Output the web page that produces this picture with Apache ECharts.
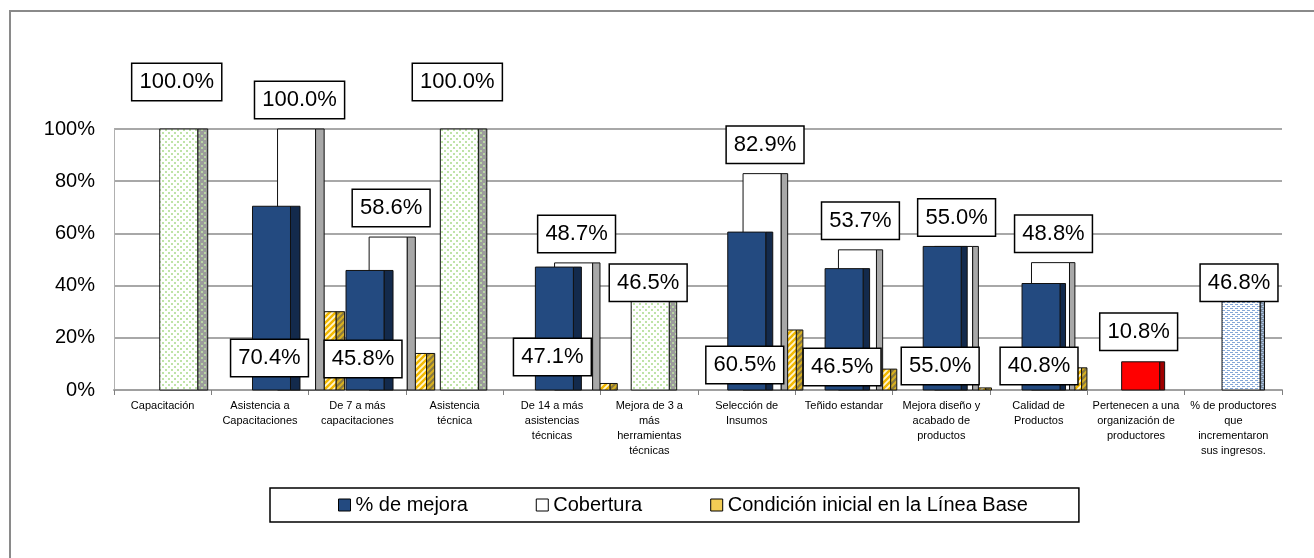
<!DOCTYPE html>
<html>
<head>
<meta charset="utf-8">
<style>
  html, body { margin: 0; padding: 0; background: #fff; }
  #chart { width: 1314px; height: 558px; }
</style>
<script src="https://cdn.jsdelivr.net/npm/echarts@6/dist/echarts.min.js"></script>
</head>
<body>
<div id="chart"></div>
<script>
const categories = [
  'Capacitación',
  'Asistencia a\nCapacitaciones',
  'De 7 a más\ncapacitaciones',
  'Asistencia\ntécnica',
  'De 14 a más\nasistencias\ntécnicas',
  'Mejora de 3 a\nmás\nherramientas\ntécnicas',
  'Selección de\nInsumos',
  'Teñido estandar',
  'Mejora diseño y\nacabado de\nproductos',
  'Calidad de\nProductos',
  'Pertenecen a una\norganización de\nproductores',
  '% de productores\nque\nincrementaron\nsus ingresos.'
]
const seriesNames = ['% de mejora', 'Cobertura', 'Condición inicial en la Línea Base']
const mejora    = [100, 70.4, 45.8, 100, 47.1, 46.5, 60.5, 46.5, 55.0, 40.8, 10.8, 46.8]
const cobertura = [null, 100, 58.6, null, 48.7, null, 82.9, 53.7, 55.0, 48.8, null, null]
const lineaBase = [null, 30, 14, null, 2.5, null, 23, 8, 0.8, 8.5, null, null]

// style only: fill of each "% de mejora" bar and where its label box sits
const mejoraFill  = ['green', 'blue', 'blue', 'green', 'blue', 'green', 'blue', 'blue', 'blue', 'blue', 'red', 'dots']
const mejoraLabel = [['top', -47], ['base', -32], ['base', -31], ['top', -47], ['base', -33], ['top', 14],
  ['base', -25], ['base', -23], ['base', -24], ['base', -24], ['top', -30], ['top', 15]]

const FONT = '"Liberation Sans", Arial, sans-serif'

function pattern(w, h, bg, draw) {
  const c = document.createElement('canvas')
  c.width = w
  c.height = h
  const g = c.getContext('2d')
  g.fillStyle = bg
  g.fillRect(0, 0, w, h)
  draw(g)
  return { image: c, repeat: 'repeat' }
}
const dots = col => g => { g.fillStyle = col; g.fillRect(0, 0, 2, 2); g.fillRect(3, 3, 2, 2) }
const dashes = col => g => { g.fillStyle = col; g.fillRect(0, 0, 3, 1); g.fillRect(2, 2, 3, 1) }
const hatch = (col, lw) => g => {
  g.strokeStyle = col
  g.lineWidth = lw
  g.beginPath()
  g.moveTo(-1, 7); g.lineTo(7, -1)
  g.moveTo(-1, 1); g.lineTo(1, -1)
  g.moveTo(5, 7); g.lineTo(7, 5)
  g.stroke()
}

// [front, side]
const fills = {
  blue: ['#234a80', '#132a4c'],
  red: ['#ff0000', '#a00000'],
  white: ['#ffffff', '#a8a8a8'],
  green: [pattern(6, 6, '#ffffff', dots('#bfe3a8')), pattern(6, 6, '#9c9c9c', dots('#b8d6a2'))],
  dots: [pattern(5, 4, '#ffffff', dashes('#86a8d8')), pattern(5, 4, '#7a8a9c', dashes('#a8c0e0'))],
  yellow: [pattern(6, 6, '#fff6d0', hatch('#f2b800', 2.4)), pattern(6, 6, '#8a7a40', hatch('#d8b020', 2))]
}

function makeRender(kind) {
  return function (params, api) {
    const i = api.value(0)
    const v = api.value(1)
    const top = api.coord([i, v])
    const base = api.coord([i, 0])
    const c = top[0]
    // rough perspective of the original 3D chart
    const blueX = c - 19 + 0.38 * (i - 6.5) * (i - 6.5)
    let x, w, d, fill
    if (kind === 'mejora') {
      x = blueX; w = 38; d = Math.max(4, 10 - 0.5 * i); fill = fills[mejoraFill[i]]
    } else if (kind === 'cobertura') {
      x = blueX + 27 - 1.95 * i; w = 38; d = 9 - 0.4 * i; fill = fills.white
    } else {
      x = blueX + 74 - 2.4 * i; w = 12.5 - 0.6 * i; d = 9 - 0.4 * i; fill = fills.yellow
    }
    const h = Math.max(base[1] - top[1], 1.5)
    const y = base[1] - h
    const children = [
      { type: 'rect', shape: { x: x + w, y, width: d, height: h }, style: { fill: fill[1], stroke: '#111', lineWidth: 1 } },
      { type: 'rect', shape: { x, y, width: w, height: h }, style: { fill: fill[0], stroke: '#111', lineWidth: 1 } }
    ]
    if (kind !== 'base') {
      let lx, ly
      if (kind === 'mejora') {
        const [anchor, dy] = mejoraLabel[i]
        lx = x + 17
        ly = (anchor === 'top' ? y : base[1]) + dy
      } else {
        lx = x + 22
        ly = y - 29
      }
      children.push({
        type: 'text', x: lx, y: ly,
        style: {
          text: v.toFixed(1) + '%', fill: '#000', fontSize: 22, fontFamily: FONT,
          align: 'center', verticalAlign: 'middle',
          backgroundColor: '#fff', borderColor: '#000', borderWidth: 1.5, padding: [8, 7, 6, 7]
        }
      })
    }
    return { type: 'group', children }
  }
}

const toData = arr => arr.map((v, i) => [i, v]).filter(d => d[1] != null)

const chart = echarts.init(document.getElementById('chart'))
chart.setOption({
  animation: false,
  backgroundColor: '#fff',
  graphic: [{
    type: 'rect', silent: true, z: -10,
    shape: { x: 10, y: 11, width: 1400, height: 700 },
    style: { fill: 'none', stroke: '#8a8a8a', lineWidth: 2 }
  }],
  grid: { left: 114, right: 32, top: 129, bottom: 168 },
  legend: {
    left: 270, top: 488,
    padding: [7, 51, 7, 68],
    itemGap: 68, itemWidth: 12, itemHeight: 12,
    borderColor: '#000', borderWidth: 1.5,
    textStyle: { fontSize: 20, color: '#000', fontFamily: FONT },
    data: [
      { name: seriesNames[0], icon: 'rect', itemStyle: { color: '#234a80', borderColor: '#000', borderWidth: 1 } },
      { name: seriesNames[1], icon: 'rect', itemStyle: { color: '#ffffff', borderColor: '#000', borderWidth: 1 } },
      { name: seriesNames[2], icon: 'rect', itemStyle: { color: '#f3cd55', borderColor: '#000', borderWidth: 1 } }
    ]
  },
  xAxis: {
    type: 'category',
    data: categories,
    axisLine: { lineStyle: { color: '#a0a0a0', width: 2 } },
    axisTick: { show: true, length: 5, lineStyle: { color: '#808080' } },
    axisLabel: { interval: 0, fontSize: 11, lineHeight: 15, color: '#000', fontFamily: FONT, margin: 8 }
  },
  yAxis: {
    type: 'value', min: 0, max: 100, interval: 20,
    axisLine: { show: true, lineStyle: { color: '#b0b0b0' } },
    axisTick: { show: false },
    axisLabel: { formatter: '{value}%', fontSize: 20, color: '#000', fontFamily: FONT, margin: 19 },
    splitLine: { lineStyle: { color: '#a8a8a8', width: 2 } }
  },
  series: [
    { name: seriesNames[2], type: 'custom', z: 2, renderItem: makeRender('base'), encode: { x: 0, y: 1 }, data: toData(lineaBase), itemStyle: { color: '#f3cd55' } },
    { name: seriesNames[1], type: 'custom', z: 3, renderItem: makeRender('cobertura'), encode: { x: 0, y: 1 }, data: toData(cobertura), itemStyle: { color: '#ffffff' } },
    { name: seriesNames[0], type: 'custom', z: 4, renderItem: makeRender('mejora'), encode: { x: 0, y: 1 }, data: toData(mejora), itemStyle: { color: '#234a80' } }
  ]
})
</script>
</body>
</html>
